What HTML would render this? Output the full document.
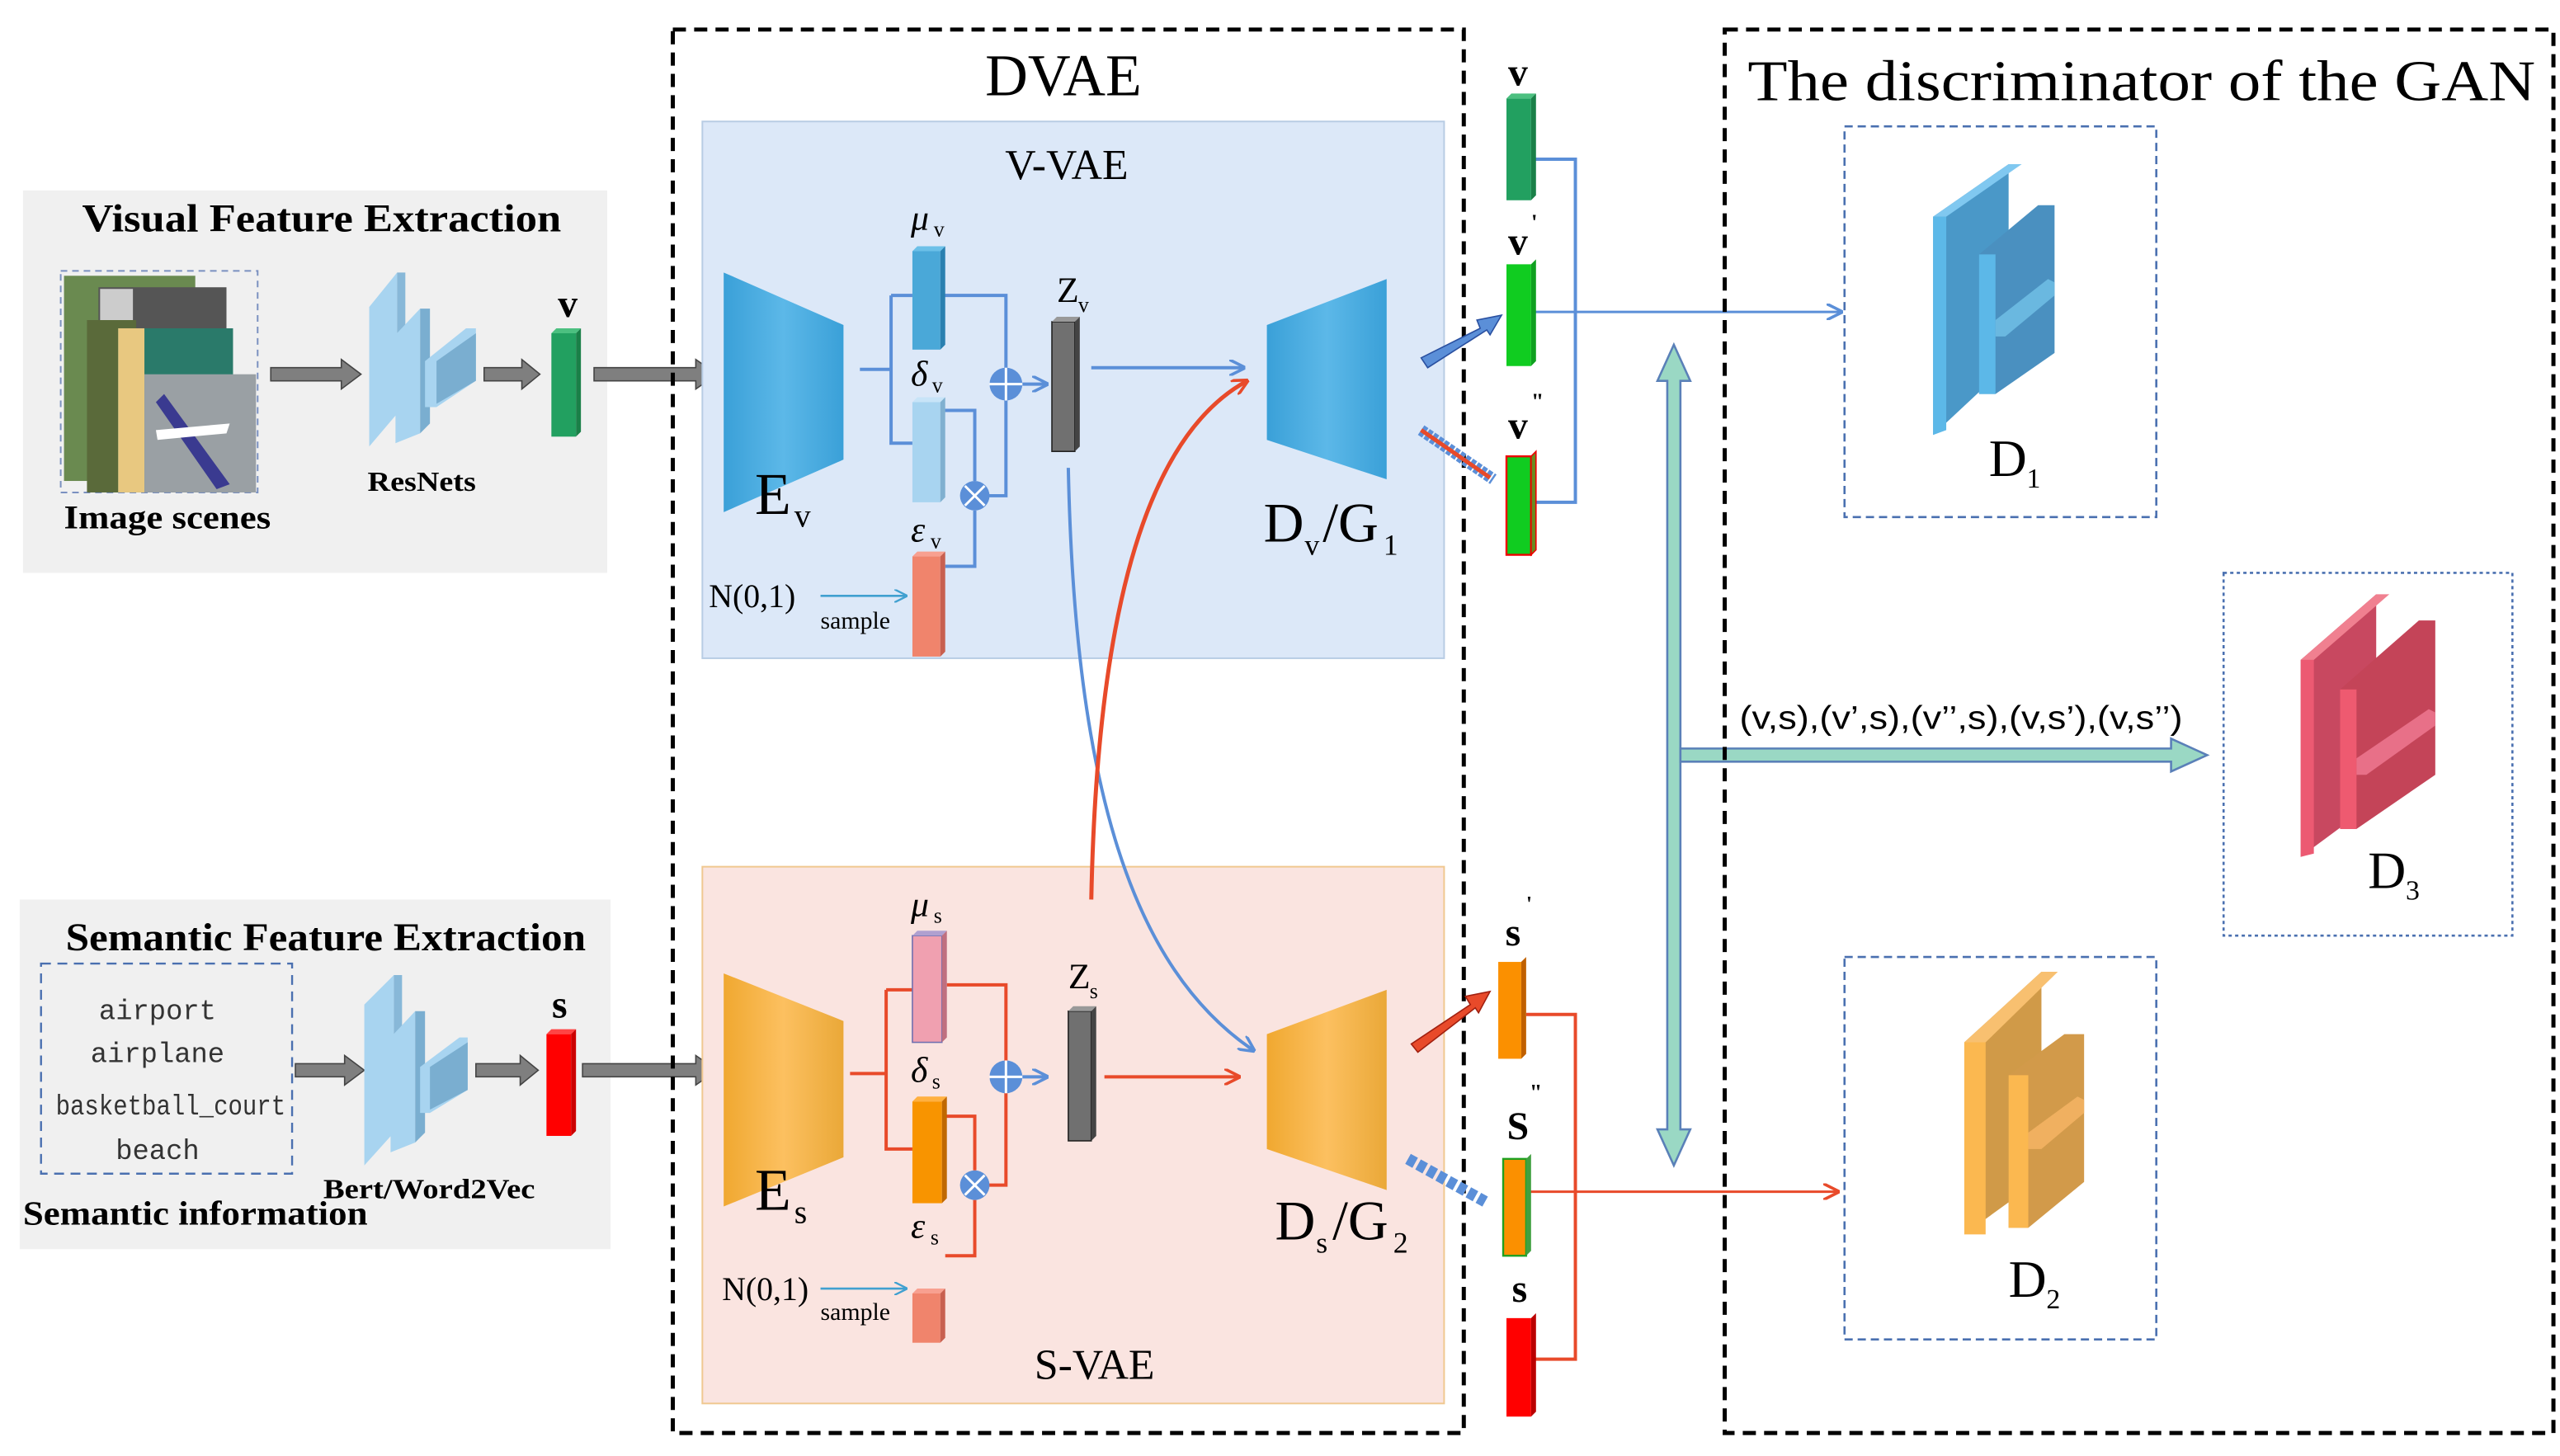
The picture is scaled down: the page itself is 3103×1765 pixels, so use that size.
<!DOCTYPE html>
<html><head><meta charset="utf-8">
<style>
html,body{margin:0;padding:0;background:#fff;}
svg{display:block;}
.ser{font-family:"Liberation Serif",serif;}
.b{font-weight:bold;}
</style></head>
<body>
<svg width="3103" height="1765" viewBox="0 0 1560 887" preserveAspectRatio="none" xmlns="http://www.w3.org/2000/svg">
<defs>
<linearGradient id="gb" x1="0" x2="1"><stop offset="0" stop-color="#3aa0d8"/><stop offset="0.5" stop-color="#5cb8e8"/><stop offset="1" stop-color="#3aa0d8"/></linearGradient>
<linearGradient id="go" x1="0" x2="1"><stop offset="0" stop-color="#f0a830"/><stop offset="0.5" stop-color="#fcc060"/><stop offset="1" stop-color="#eaa838"/></linearGradient>
<marker id="ab" markerWidth="10" markerHeight="10" refX="9" refY="5" orient="auto" markerUnits="userSpaceOnUse"><path d="M0,0 L10,5 L0,10" fill="none" stroke="#5b8fd8" stroke-width="1.8"/></marker>
<marker id="ar" markerWidth="10" markerHeight="10" refX="9" refY="5" orient="auto" markerUnits="userSpaceOnUse"><path d="M0,0 L10,5 L0,10" fill="none" stroke="#e84a2a" stroke-width="1.8"/></marker>
<marker id="ac" markerWidth="8" markerHeight="8" refX="7" refY="4" orient="auto" markerUnits="userSpaceOnUse"><path d="M0,0 L8,4 L0,8" fill="none" stroke="#40a0d0" stroke-width="1.2"/></marker>
</defs>

<!-- Visual Feature Extraction -->
<rect x="14" y="116" width="356" height="233" fill="#f0f0f0"/>
<text x="50" y="141" textLength="292" lengthAdjust="spacingAndGlyphs" class="ser b" font-size="24">Visual  Feature Extraction</text>
<rect x="37" y="165" width="120" height="135" fill="none" stroke="#7a90c0" stroke-dasharray="4,3"/>
<rect x="39" y="168" width="80" height="125" fill="#6a8a50"/>
<rect x="60" y="175" width="78" height="55" fill="#555"/>
<rect x="61" y="176" width="20" height="20" fill="#ccc"/>
<rect x="53" y="195" width="30" height="105" fill="#5a6a3a"/>
<rect x="72" y="200" width="70" height="100" fill="#2a7a6a"/>
<rect x="72" y="200" width="16" height="100" fill="#e8c880"/>
<rect x="88" y="228" width="68" height="72" fill="#9aa0a4"/>
<path d="M100,240 L140,295 L132,298 L95,245 Z" fill="#3a3a90"/>
<path d="M95,262 L140,258 L138,264 L96,268 Z" fill="#fff"/>
<text x="39" y="322" textLength="126" lengthAdjust="spacingAndGlyphs" class="ser b" font-size="20">Image scenes</text>

<!-- Semantic Feature Extraction -->
<rect x="12" y="548" width="360" height="213" fill="#f0f0f0"/>
<text x="40" y="579" textLength="317" lengthAdjust="spacingAndGlyphs" class="ser b" font-size="24">Semantic Feature Extraction</text>
<rect x="25" y="587" width="153" height="128" fill="none" stroke="#4a70b0" stroke-width="1.2" stroke-dasharray="6,4"/>
<g font-family="Liberation Mono,monospace" font-size="17" fill="#333" text-anchor="middle">
<text x="96" y="621">airport</text>
<text x="96" y="647">airplane</text>
<text x="104" y="679" textLength="140" lengthAdjust="spacingAndGlyphs">basketball_court</text>
<text x="96" y="706">beach</text>
</g>
<text x="14" y="746" textLength="210" lengthAdjust="spacingAndGlyphs" class="ser b" font-size="21">Semantic information</text>

<g fill="#7f7f7f" stroke="#444" stroke-width="0.8">
<path d="M165,224 L208,224 L208,219 L220,228 L208,237 L208,232 L165,232 Z"/>
<path d="M295,224 L318,224 L318,219 L329,228 L318,237 L318,232 L295,232 Z"/>
<path d="M362,224 L424,224 L424,219 L437,228 L424,237 L424,232 L362,232 Z"/>
<path d="M180,648 L210,648 L210,643 L222,652 L210,661 L210,656 L180,656 Z"/>
<path d="M290,648 L317,648 L317,643 L328,652 L317,661 L317,656 L290,656 Z"/>
<path d="M355,648 L424,648 L424,643 L437,652 L424,661 L424,656 L355,656 Z"/>
</g>

<!-- ResNets block -->
<g>
<path d="M225,187 L242,166 L242,252 L225,272 Z" fill="#a8d4f0"/>
<path d="M242,166 L247,166 L247,252 L242,252 Z" fill="#88b8d8"/>
<path d="M241,204 L256,188 L256,264 L241,270 Z" fill="#a8d4f0"/>
<path d="M256,188 L262,188 L262,258 L256,264 Z" fill="#7aaed0"/>
<path d="M259,220 L284,200 L290,200 L290,232 L266,248 L259,248 Z" fill="#a8d4f0"/>
<path d="M266,220 L290,203 L290,232 L266,246 Z" fill="#7aaed0"/>
</g>
<text x="224" y="299" textLength="66" lengthAdjust="spacingAndGlyphs" class="ser b" font-size="17">ResNets</text>
<rect x="336" y="203" width="15" height="63" fill="#22a060"/>
<path d="M336,203 L339,200 L354,200 L351,203 Z" fill="#4cc080"/>
<path d="M351,203 L354,200 L354,263 L351,266 Z" fill="#1a8048"/>
<text x="346" y="193" text-anchor="middle" class="ser b" font-size="24">v</text>

<g>
<path d="M222,612 L240,594 L240,690 L222,710 Z" fill="#a8d4f0"/>
<path d="M240,594 L245,594 L245,690 L240,690 Z" fill="#88b8d8"/>
<path d="M238,632 L253,616 L253,696 L238,702 Z" fill="#a8d4f0"/>
<path d="M253,616 L259,616 L259,690 L253,696 Z" fill="#7aaed0"/>
<path d="M256,650 L280,632 L285,632 L285,664 L262,678 L256,678 Z" fill="#a8d4f0"/>
<path d="M262,650 L285,635 L285,664 L262,676 Z" fill="#7aaed0"/>
</g>
<text x="197" y="730" textLength="129" lengthAdjust="spacingAndGlyphs" class="ser b" font-size="17">Bert/Word2Vec</text>
<rect x="333" y="630" width="15" height="62" fill="#f00"/>
<path d="M333,630 L336,627 L351,627 L348,630 Z" fill="#f44"/>
<path d="M348,630 L351,627 L351,689 L348,692 Z" fill="#c00"/>
<text x="341" y="620" text-anchor="middle" class="ser b" font-size="24">s</text>

<!-- DVAE -->
<rect x="410" y="18" width="482" height="855" fill="none" stroke="#000" stroke-width="2.5" stroke-dasharray="8,5"/>
<text x="648" y="58" text-anchor="middle" class="ser" font-size="36">DVAE</text>

<rect x="428" y="74" width="452" height="327" fill="#dce8f8" stroke="#b8cce4"/>
<text x="650" y="109" text-anchor="middle" class="ser" font-size="26">V-VAE</text>
<rect x="428" y="528" width="452" height="327" fill="#fae4e0" stroke="#f0c890"/>
<text x="667" y="840" text-anchor="middle" class="ser" font-size="26">S-VAE</text>

<!-- V-VAE content -->
<path d="M441,166 L514,198 L514,280 L441,312 Z" fill="url(#gb)"/>
<text x="460" y="313" class="ser" font-size="36">E</text><text x="484" y="321" class="ser" font-size="20">v</text>
<path d="M772,198 L845,170 L845,292 L772,268 Z" fill="url(#gb)"/>
<text x="770" y="330" class="ser" font-size="34">D</text><text x="795" y="338" class="ser" font-size="18">v</text><text x="806" y="330" class="ser" font-size="34">/G</text><text x="843" y="338" class="ser" font-size="18">1</text>

<g stroke="#5b8fd8" stroke-width="2" fill="none">
<path d="M524,225 L543,225 M543,180 L543,270 L556,270 M543,180 L556,180"/>
<path d="M575,180 L613,180 L613,302 L602,302"/>
<path d="M575,250 L594,250 L594,293 M594,311 L594,345 L576,345"/>
<path d="M623,234 L638,234" marker-end="url(#ab)"/>
<path d="M665,224 L758,224" marker-end="url(#ab)"/>
<path d="M651,285 C655,480 690,590 764,640" marker-end="url(#ab)"/>
</g>
<rect x="556" y="153" width="17" height="60" fill="#4aa8d8"/>
<path d="M556,153 L559,150 L576,150 L573,153 Z" fill="#6cc0e8"/><path d="M573,153 L576,150 L576,210 L573,213 Z" fill="#2a80b0"/>
<text x="555" y="140" class="ser" font-style="italic" font-size="22">μ</text><text x="569" y="144" class="ser" font-size="13">v</text>
<rect x="556" y="245" width="17" height="61" fill="#a8d4f0"/>
<path d="M556,245 L559,242 L576,242 L573,245 Z" fill="#c8e4f8"/><path d="M573,245 L576,242 L576,303 L573,306 Z" fill="#80b0d0"/>
<text x="555" y="235" class="ser" font-style="italic" font-size="22">δ</text><text x="568" y="239" class="ser" font-size="13">v</text>
<rect x="556" y="339" width="17" height="61" fill="#f0846c"/>
<path d="M556,339 L559,336 L576,336 L573,339 Z" fill="#f8a090"/><path d="M573,339 L576,336 L576,397 L573,400 Z" fill="#c86050"/>
<text x="555" y="330" class="ser" font-style="italic" font-size="22">ε</text><text x="567" y="334" class="ser" font-size="13">v</text>
<circle cx="613" cy="234" r="10" fill="#5b8fd8"/><path d="M603,234 L623,234 M613,224 L613,244" stroke="#fff" stroke-width="1.5"/>
<circle cx="594" cy="302" r="9" fill="#5b8fd8"/><path d="M588,296 L600,308 M600,296 L588,308" stroke="#fff" stroke-width="1.5"/>
<rect x="641" y="196" width="14" height="79" fill="#707070" stroke="#222" stroke-width="0.8"/>
<path d="M641,196 L644,193 L658,193 L655,196 Z" fill="#999"/><path d="M655,196 L658,193 L658,272 L655,275 Z" fill="#444"/>
<text x="644" y="184" class="ser" font-size="22">Z</text><text x="657" y="190" class="ser" font-size="13">v</text>
<text x="432" y="370" class="ser" font-size="20">N(0,1)</text>
<text x="500" y="383" class="ser" font-size="15">sample</text>
<path d="M500,363 L552,363" stroke="#40a0d0" stroke-width="1.3" marker-end="url(#ac)"/>

<!-- S-VAE content -->
<path d="M441,593 L514,622 L514,705 L441,735 Z" fill="url(#go)"/>
<text x="460" y="737" class="ser" font-size="36">E</text><text x="484" y="745" class="ser" font-size="20">s</text>
<path d="M772,630 L845,603 L845,725 L772,700 Z" fill="url(#go)"/>
<text x="777" y="755" class="ser" font-size="34">D</text><text x="802" y="763" class="ser" font-size="18">s</text><text x="812" y="755" class="ser" font-size="34">/G</text><text x="849" y="763" class="ser" font-size="18">2</text>
<g stroke="#e84a2a" stroke-width="2" fill="none">
<path d="M518,654 L540,654 M540,603 L540,700 L556,700 M540,603 L556,603"/>
<path d="M577,600 L613,600 L613,722 L602,722"/>
<path d="M575,680 L594,680 L594,713 M594,731 L594,765 L576,765"/>
<path d="M673,656 L755,656" marker-end="url(#ar)"/>
<path d="M665,548 C668,400 690,270 760,232" stroke-width="2.5" marker-end="url(#ar)"/>
</g>
<path d="M623,656 L638,656" stroke="#5b8fd8" stroke-width="2" marker-end="url(#ab)"/>
<rect x="556" y="570" width="18" height="65" fill="#f0a0b0" stroke="#7070b0" stroke-width="0.8"/>
<path d="M556,570 L559,567 L577,567 L574,570 Z" fill="#b0a0d0"/><path d="M574,570 L577,567 L577,632 L574,635 Z" fill="#c07080"/>
<text x="555" y="558" class="ser" font-style="italic" font-size="22">μ</text><text x="569" y="562" class="ser" font-size="13">s</text>
<rect x="556" y="671" width="18" height="62" fill="#f89400"/>
<path d="M556,671 L559,668 L577,668 L574,671 Z" fill="#ffb040"/><path d="M574,671 L577,668 L577,730 L574,733 Z" fill="#c06800"/>
<text x="555" y="659" class="ser" font-style="italic" font-size="22">δ</text><text x="568" y="663" class="ser" font-size="13">s</text>
<rect x="556" y="788" width="17" height="30" fill="#f0846c"/>
<path d="M556,788 L559,785 L576,785 L573,788 Z" fill="#f8a090"/><path d="M573,788 L576,785 L576,815 L573,818 Z" fill="#c86050"/>
<text x="555" y="754" class="ser" font-style="italic" font-size="22">ε</text><text x="567" y="758" class="ser" font-size="13">s</text>
<circle cx="613" cy="656" r="10" fill="#5b8fd8"/><path d="M603,656 L623,656 M613,646 L613,666" stroke="#fff" stroke-width="1.5"/>
<circle cx="594" cy="722" r="9" fill="#5b8fd8"/><path d="M588,716 L600,728 M600,716 L588,728" stroke="#fff" stroke-width="1.5"/>
<rect x="651" y="616" width="14" height="79" fill="#707070" stroke="#222" stroke-width="0.8"/>
<path d="M651,616 L654,613 L668,613 L665,616 Z" fill="#999"/><path d="M665,616 L668,613 L668,692 L665,695 Z" fill="#444"/>
<text x="651" y="602" class="ser" font-size="22">Z</text><text x="664" y="608" class="ser" font-size="13">s</text>
<text x="440" y="792" class="ser" font-size="20">N(0,1)</text>
<text x="500" y="804" class="ser" font-size="15">sample</text>
<path d="M500,785 L552,785" stroke="#40a0d0" stroke-width="1.3" marker-end="url(#ac)"/>

<!-- outputs v -->
<g stroke="#5b8fd8" stroke-width="2" fill="none">
<path d="M935,97 L960,97 L960,306 L935,306"/>
<path d="M935,190 L1122,190" stroke-width="1.5" marker-end="url(#ab)"/>
</g>
<path d="M866,218 L902,200 L900,195 L915,192 L908,204 L906,201 L870,224 Z" fill="#5b8fd8" stroke="#2a50a0" stroke-width="0.8"/>
<path d="M866,262 L910,292" stroke="#5b8fd8" stroke-width="7" stroke-dasharray="3,1"/>
<path d="M866,262 L908,291" stroke="#e84a2a" stroke-width="2.5"/>
<rect x="918" y="60" width="15" height="62" fill="#22a060"/><path d="M918,60 L921,57 L936,57 L933,60 Z" fill="#4cc080"/><path d="M933,60 L936,57 L936,119 L933,122 Z" fill="#1a8048"/>
<text x="925" y="52" text-anchor="middle" class="ser b" font-size="24">v</text>
<rect x="918" y="161" width="15" height="62" fill="#10cc20"/><path d="M933,161 L936,158 L936,220 L933,223 Z" fill="#10a020"/>
<text x="925" y="155" text-anchor="middle" class="ser b" font-size="24">v</text><text x="933" y="140" class="ser b" font-size="14">'</text>
<rect x="918" y="278" width="15" height="60" fill="#10cc20" stroke="#e00" stroke-width="1.2"/><path d="M933,278 L936,275 L936,335 L933,338 Z" fill="#6a8a20" stroke="#e00" stroke-width="0.8"/>
<text x="925" y="267" text-anchor="middle" class="ser b" font-size="24">v</text><text x="933" y="249" class="ser b" font-size="14">"</text>

<!-- outputs s -->
<g stroke="#e84a2a" stroke-width="2" fill="none">
<path d="M930,618 L960,618 L960,828 L935,828"/>
<path d="M930,726 L1120,726" stroke-width="1.5" marker-end="url(#ar)"/>
</g>
<path d="M860,636 L896,612 L893,607 L908,604 L901,617 L899,614 L864,641 Z" fill="#e84a2a" stroke="#a02010" stroke-width="0.8"/>
<path d="M858,706 L905,732" stroke="#5b8fd8" stroke-width="7" stroke-dasharray="5,2"/>
<rect x="913" y="586" width="14" height="59" fill="#fb9000"/><path d="M927,586 L930,583 L930,642 L927,645 Z" fill="#c06000"/>
<text x="922" y="576" text-anchor="middle" class="ser b" font-size="24">s</text><text x="930" y="555" class="ser b" font-size="13">'</text>
<rect x="916" y="706" width="14" height="59" fill="#fb9000" stroke="#20a020" stroke-width="1.2"/><path d="M930,706 L933,703 L933,762 L930,765 Z" fill="#40a040"/>
<text x="925" y="694" text-anchor="middle" class="ser b" font-size="24">S</text><text x="932" y="670" class="ser b" font-size="14">"</text>
<rect x="918" y="803" width="15" height="60" fill="#f00"/><path d="M933,803 L936,800 L936,860 L933,863 Z" fill="#b00"/>
<text x="926" y="793" text-anchor="middle" class="ser b" font-size="24">s</text>

<!-- teal arrows -->
<g fill="#9ad8c4" stroke="#5a80b8" stroke-width="1.3">
<path d="M1016,232 L1016,688 L1010,688 L1020,710 L1030,688 L1024,688 L1024,232 L1030,232 L1020,210 L1010,232 Z"/>
<path d="M1024,456 L1323,456 L1323,450 L1345,460 L1323,470 L1323,464 L1024,464 Z"/>
</g>
<text x="1060" y="444" textLength="270" lengthAdjust="spacingAndGlyphs" font-family="Liberation Sans,sans-serif" font-size="20">(v,s),(v’,s),(v’’,s),(v,s’),(v,s’’)</text>

<!-- GAN -->
<rect x="1051" y="18" width="505" height="855" fill="none" stroke="#000" stroke-width="2.5" stroke-dasharray="8,5"/>
<text x="1065" y="61" textLength="480" lengthAdjust="spacingAndGlyphs" class="ser" font-size="35">The discriminator of  the GAN</text>
<rect x="1124" y="77" width="190" height="238" fill="none" stroke="#4a70b0" stroke-width="1.3" stroke-dasharray="5,3"/>
<rect x="1355" y="349" width="176" height="221" fill="none" stroke="#4a70b0" stroke-width="1.3" stroke-dasharray="2,2"/>
<rect x="1124" y="583" width="190" height="233" fill="none" stroke="#4a70b0" stroke-width="1.3" stroke-dasharray="5,3"/>

<!-- D1 -->
<g>
<path d="M1178,132 L1224,100 L1224,222 L1178,265 Z" fill="#4a98c8"/>
<path d="M1178,132 L1186,132 L1186,262 L1178,265 Z" fill="#5cb8e8"/>
<path d="M1178,132 L1224,100 L1232,100 L1186,132 Z" fill="#80c8f0"/>
<path d="M1206,155 L1242,125 L1252,125 L1252,215 L1216,240 L1206,240 Z" fill="#4a90c0"/>
<path d="M1206,155 L1216,155 L1216,240 L1206,240 Z" fill="#5cb8e8"/>
<path d="M1216,195 L1248,170 L1252,172 L1252,180 L1222,205 L1216,205 Z" fill="#6ab8e0"/>
</g>
<text x="1212" y="290" class="ser" font-size="32">D</text><text x="1235" y="297" class="ser" font-size="17">1</text>
<!-- D3 -->
<g>
<path d="M1402,402 L1448,362 L1448,488 L1402,522 Z" fill="#c84860"/>
<path d="M1402,402 L1410,402 L1410,520 L1402,522 Z" fill="#ec5a72"/>
<path d="M1402,402 L1448,362 L1456,362 L1410,402 Z" fill="#f08090"/>
<path d="M1426,420 L1474,378 L1484,378 L1484,472 L1436,505 L1426,505 Z" fill="#c44458"/>
<path d="M1426,420 L1436,420 L1436,505 L1426,505 Z" fill="#ee5a70"/>
<path d="M1436,462 L1480,432 L1484,434 L1484,442 L1442,472 L1436,472 Z" fill="#e87088"/>
</g>
<text x="1443" y="541" class="ser" font-size="32">D</text><text x="1466" y="548" class="ser" font-size="17">3</text>
<!-- D2 -->
<g>
<path d="M1197,635 L1244,592 L1244,718 L1197,752 Z" fill="#d09a48"/>
<path d="M1197,635 L1210,635 L1210,752 L1197,752 Z" fill="#fbb850"/>
<path d="M1197,635 L1244,592 L1254,592 L1210,635 Z" fill="#f8c070"/>
<path d="M1224,655 L1258,630 L1270,630 L1270,720 L1236,748 L1224,748 Z" fill="#d29a4a"/>
<path d="M1224,655 L1236,655 L1236,748 L1224,748 Z" fill="#fbb850"/>
<path d="M1236,690 L1266,668 L1270,670 L1270,678 L1244,700 L1236,700 Z" fill="#f0b060"/>
</g>
<text x="1224" y="790" class="ser" font-size="32">D</text><text x="1247" y="797" class="ser" font-size="17">2</text>
</svg>
</body></html>
